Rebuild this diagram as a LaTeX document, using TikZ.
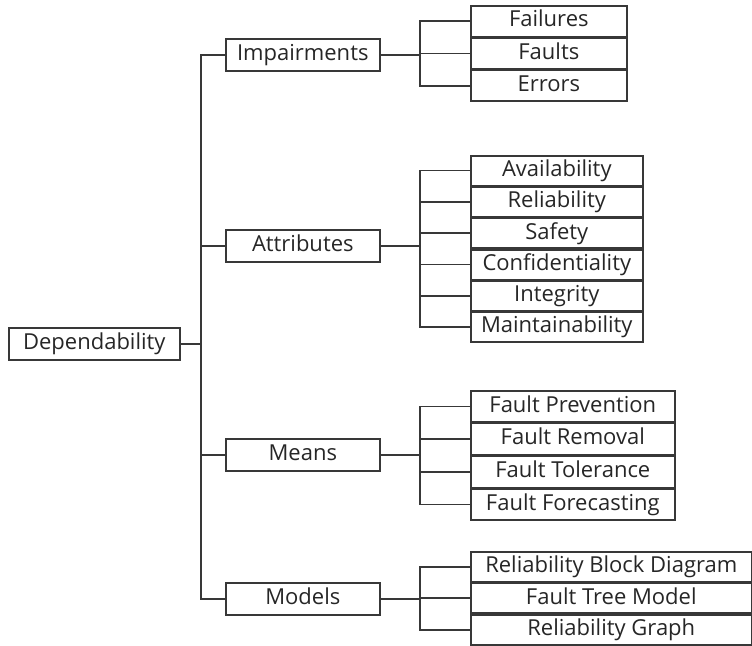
\documentclass[tikz,border=0pt]{standalone}
\usepackage{fontspec}
\setmainfont{Open Sans}
\usepackage{tikz}
\usetikzlibrary{positioning}

\begin{document}
\begin{tikzpicture}[x=1pt,y=-1pt,
  box/.style={draw=black!78,line width=1.6pt,inner sep=0pt,text=black!85,
    text height=16,text depth=4.5,font=\fontsize{22}{22}\selectfont},
  rootbox/.style={box,minimum width=171,minimum height=32},
  catbox/.style={box,minimum width=154,minimum height=32},
  impleaf/.style={box,minimum width=156,minimum height=30.7},
  attleaf/.style={box,minimum width=172,minimum height=29.7},
  mealeaf/.style={box,minimum width=204,minimum height=31.1},
  modleaf/.style={box,minimum width=281,minimum height=29.9},
  link/.style={draw=black!78,line width=1.6pt}
]
  \useasboundingbox (0,0) rectangle (752,645);

  \node[rootbox,anchor=west] (dep) at (8,344) {Dependability};
  \node[catbox,anchor=west]  (imp) at (225,55)  {Impairments};
  \node[catbox,anchor=west]  (att) at (225,246) {Attributes};
  \node[catbox,anchor=west]  (mea) at (225,455) {Means};
  \node[catbox,anchor=west]  (mod) at (225,599) {Models};

  % impairments
  \node[impleaf,anchor=north west] (fail) at (470,5) {Failures};
  \node[impleaf,below=0pt of fail] (flt) {Faults};
  \node[impleaf,below=0pt of flt]  (err) {Errors};

  % attributes
  \node[attleaf,anchor=north west] (avail) at (470,155) {Availability};
  \node[attleaf,below=0pt of avail] (rel)   {Reliability};
  \node[attleaf,below=0pt of rel]   (safe)  {Safety};
  \node[attleaf,below=0pt of safe]  (conf)  {Confidentiality};
  \node[attleaf,below=0pt of conf]  (integ) {Integrity};
  \node[attleaf,below=0pt of integ] (maint) {Maintainability};

  % means
  \node[mealeaf,anchor=north west] (prev) at (470,390) {Fault Prevention};
  \node[mealeaf,below=0pt of prev] (remo) {Fault Removal};
  \node[mealeaf,below=0pt of remo] (tole) {Fault Tolerance};
  \node[mealeaf,below=0pt of tole] (fore) {Fault Forecasting};

  % models
  \node[modleaf,anchor=north west] (rbd) at (470,551) {Reliability Block Diagram};
  \node[modleaf,below=0pt of rbd]  (ftm) {Fault Tree Model};
  \node[modleaf,below=0pt of ftm]  (rg)  {Reliability Graph};

  % main trunk
  \draw[link] (imp.west) -- ++(-24,0) coordinate (trunk) |- (mod.west);
  \draw[link] (dep.east) -- (dep.east -| trunk);
  \foreach \n in {att,mea}
    \draw[link] (\n.west) -- (\n.west -| trunk);

  % sub trunks
  \draw[link] (fail.west) -- ++(-50,0) coordinate (impbus) |- (err.west);
  \draw[link] (flt.west) -- (flt.west -| impbus);
  \draw[link] (imp.east) -- (imp.east -| impbus);

  \draw[link] (avail.west) -- ++(-50,0) coordinate (attbus) |- (maint.west);
  \foreach \n in {rel,safe,conf,integ}
    \draw[link] (\n.west) -- (\n.west -| attbus);
  \draw[link] (att.east) -- (att.east -| attbus);

  \draw[link] (prev.west) -- ++(-50,0) coordinate (meabus) |- (fore.west);
  \foreach \n in {remo,tole}
    \draw[link] (\n.west) -- (\n.west -| meabus);
  \draw[link] (mea.east) -- (mea.east -| meabus);

  \draw[link] (rbd.west) -- ++(-50,0) coordinate (modbus) |- (rg.west);
  \draw[link] (ftm.west) -- (ftm.west -| modbus);
  \draw[link] (mod.east) -- (mod.east -| modbus);
\end{tikzpicture}
\end{document}
